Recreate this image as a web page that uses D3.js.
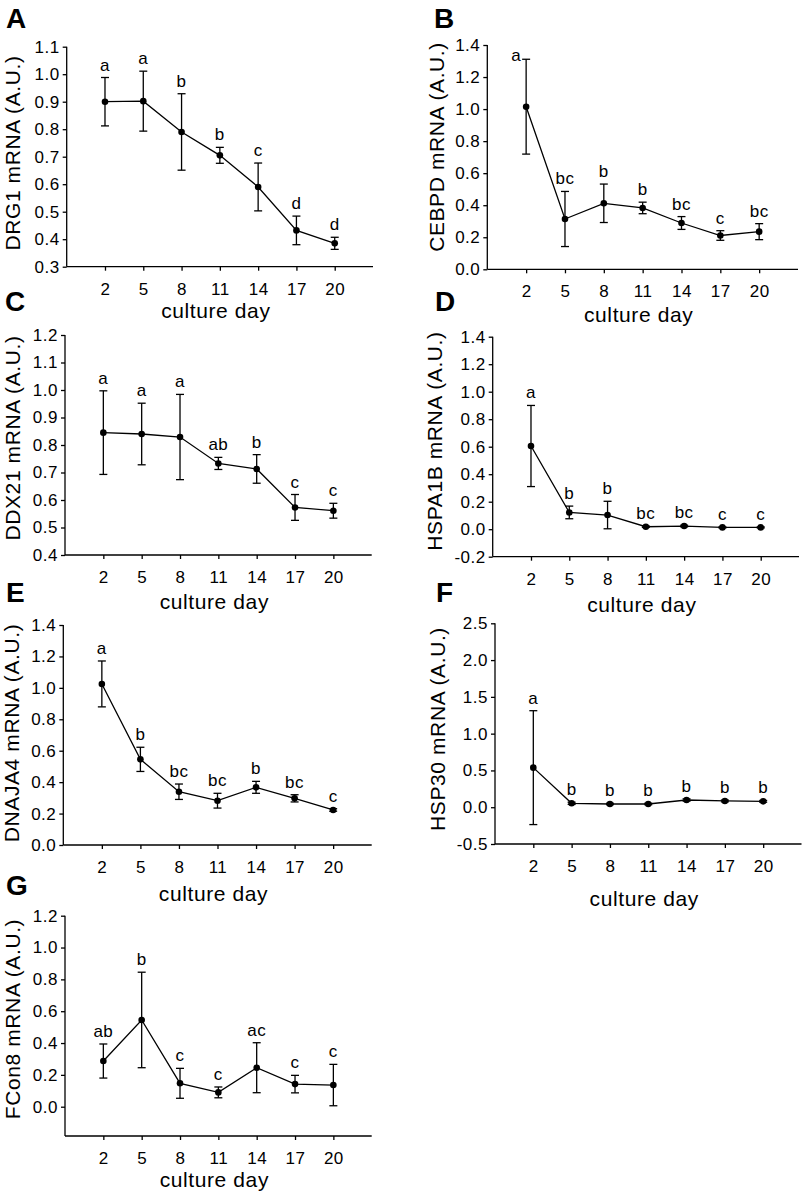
<!DOCTYPE html>
<html><head><meta charset="utf-8">
<script src="https://cdn.jsdelivr.net/npm/d3@7"></script>
<style>body{margin:0;background:#fff} svg text{font-family:"Liberation Sans",Arial,sans-serif;fill:#000}</style>
</head><body><svg id="c" width="802" height="1192"></svg>
<script>
// ---- data ----
const days = [2, 5, 8, 11, 14, 17, 20];

const drg1Mean = [0.900, 0.902, 0.790, 0.705, 0.590, 0.432, 0.385];
const drg1Err  = [0.088, 0.109, 0.139, 0.029, 0.087, 0.052, 0.022];
const drg1Sig  = ["a", "a", "b", "b", "c", "d", "d"];
const drg1Ticks = [0.3, 0.4, 0.5, 0.6, 0.7, 0.8, 0.9, 1.0, 1.1];

const cebpdMean = [1.015, 0.314, 0.412, 0.383, 0.289, 0.211, 0.235];
const cebpdErr  = [0.296, 0.172, 0.120, 0.036, 0.040, 0.030, 0.050];
const cebpdSig  = ["a", "bc", "b", "b", "bc", "c", "bc"];
const cebpdTicks = [0.0, 0.2, 0.4, 0.6, 0.8, 1.0, 1.2, 1.4];

const ddx21Mean = [0.845, 0.840, 0.829, 0.733, 0.713, 0.573, 0.561];
const ddx21Err  = [0.152, 0.112, 0.155, 0.022, 0.052, 0.047, 0.027];
const ddx21Sig  = ["a", "a", "a", "ab", "b", "c", "c"];
const ddx21Ticks = [0.4, 0.5, 0.6, 0.7, 0.8, 0.9, 1.0, 1.1, 1.2];

const hspa1bMean = [0.605, 0.122, 0.103, 0.018, 0.023, 0.013, 0.013];
const hspa1bErr  = [0.295, 0.046, 0.100, 0.005, 0.006, 0.004, 0.004];
const hspa1bSig  = ["a", "b", "b", "bc", "bc", "c", "c"];
const hspa1bTicks = [-0.2, 0.0, 0.2, 0.4, 0.6, 0.8, 1.0, 1.2, 1.4];

const dnaja4Mean = [1.025, 0.545, 0.339, 0.282, 0.367, 0.297, 0.223];
const dnaja4Err  = [0.146, 0.077, 0.049, 0.047, 0.038, 0.023, 0.008];
const dnaja4Sig  = ["a", "b", "bc", "bc", "b", "bc", "c"];
const dnaja4Ticks = [0.0, 0.2, 0.4, 0.6, 0.8, 1.0, 1.2, 1.4];

const hsp30Mean = [0.538, 0.053, 0.044, 0.044, 0.098, 0.085, 0.080];
const hsp30Err  = [0.774, 0.015, 0.010, 0.010, 0.015, 0.012, 0.012];
const hsp30Sig  = ["a", "b", "b", "b", "b", "b", "b"];
const hsp30Ticks = [-0.5, 0.0, 0.5, 1.0, 1.5, 2.0, 2.5];

const fcon8Mean = [0.287, 0.545, 0.147, 0.090, 0.245, 0.142, 0.136];
const fcon8Err  = [0.107, 0.300, 0.094, 0.034, 0.157, 0.055, 0.130];
const fcon8Sig  = ["ab", "b", "c", "c", "ac", "c", "c"];
const fcon8Ticks = [0.0, 0.2, 0.4, 0.6, 0.8, 1.0, 1.2];

// ---- layout ----
const panels = [
  {letter:"A", title:"DRG1 mRNA (A.U.)", mean:drg1Mean, err:drg1Err, sig:drg1Sig, ticks:drg1Ticks, yDom:[0.3,1.1],
   x0:66.7, x1:373, yTop:46.7, yBot:266.7, xlab:318, titleX:20, titleY:153, lx:6, ly:28},
  {letter:"B", title:"CEBPD mRNA (A.U.)", mean:cebpdMean, err:cebpdErr, sig:cebpdSig, ticks:cebpdTicks, yDom:[0,1.4],
   x0:487.3, x1:798, yTop:45, yBot:269.3, xlab:322, titleX:444, titleY:147, lx:434, ly:28},
  {letter:"C", title:"DDX21 mRNA (A.U.)", mean:ddx21Mean, err:ddx21Err, sig:ddx21Sig, ticks:ddx21Ticks, yDom:[0.4,1.2],
   x0:65, x1:371.7, yTop:335, yBot:555, xlab:609, titleX:20, titleY:438, lx:5, ly:311},
  {letter:"D", title:"HSPA1B mRNA (A.U.)", mean:hspa1bMean, err:hspa1bErr, sig:hspa1bSig, ticks:hspa1bTicks, yDom:[-0.2,1.4],
   x0:492.7, x1:799, yTop:336.7, yBot:556.7, xlab:612, titleX:442, titleY:441, lx:435, ly:311},
  {letter:"E", title:"DNAJA4 mRNA (A.U.)", mean:dnaja4Mean, err:dnaja4Err, sig:dnaja4Sig, ticks:dnaja4Ticks, yDom:[0,1.4],
   x0:63.3, x1:371.7, yTop:625, yBot:845, xlab:901, titleX:19, titleY:733, lx:6, ly:602},
  {letter:"F", title:"HSP30 mRNA (A.U.)", mean:hsp30Mean, err:hsp30Err, sig:hsp30Sig, ticks:hsp30Ticks, yDom:[-0.5,2.5],
   x0:495, x1:801.5, yTop:623.3, yBot:844, xlab:906, titleX:445, titleY:729, lx:436, ly:602},
  {letter:"G", title:"FCon8 mRNA (A.U.)", mean:fcon8Mean, err:fcon8Err, sig:fcon8Sig, ticks:fcon8Ticks, yDom:[-0.184,1.2],
   x0:65, x1:371.7, yTop:915.7, yBot:1136, xlab:1187, titleX:20, titleY:1019, lx:6, ly:895}
];

const svg = d3.select("#c");
const SW = 1.3;

panels.forEach(p => {
  const g = svg.append("g");
  const x = d3.scaleLinear().domain([-1, 23]).range([p.x0, p.x1]);
  const y = d3.scaleLinear().domain(p.yDom).range([p.yBot, p.yTop]);

  // y axis
  const ya = g.append("g").attr("transform", `translate(${p.x0},0)`)
    .call(d3.axisLeft(y).tickValues(p.ticks).tickSize(4).tickSizeOuter(0).tickPadding(3)
      .tickFormat(v => v.toFixed(1)));
  ya.select(".domain").attr("d", `M0,${p.yTop}V${p.yBot}`);
  ya.selectAll("text").attr("font-size", 17).attr("letter-spacing", 0.5).attr("font-family", null);
  ya.selectAll("line,path").attr("stroke", "#000").attr("stroke-width", SW);

  // x axis
  const xa = g.append("g").attr("transform", `translate(0,${p.yBot})`)
    .call(d3.axisBottom(x).tickValues(days).tickSize(4).tickSizeOuter(0).tickFormat(d3.format("d")));
  xa.select(".domain").attr("d", `M${p.x0},0H${p.x1}`);
  xa.selectAll("text").attr("font-size", 17).attr("letter-spacing", 0.5).attr("font-family", null)
    .attr("y", 28).attr("dy", null);
  xa.selectAll("line,path").attr("stroke", "#000").attr("stroke-width", SW);

  // axis titles
  g.append("text").attr("x", (p.x0 + p.x1) / 2 - 4).attr("y", p.xlab)
    .attr("text-anchor", "middle").attr("font-size", 21).attr("letter-spacing", 0.6).text("culture day");
  g.append("text").attr("transform", `translate(${p.titleX},${p.titleY}) rotate(-90)`)
    .attr("text-anchor", "middle").attr("font-size", 21).attr("letter-spacing", 0.6).text(p.title);

  // panel letter
  g.append("text").attr("x", p.lx).attr("y", p.ly).attr("font-size", 28)
    .attr("font-weight", "bold").text(p.letter);

  const pts = days.map((d, i) => ({d, m: p.mean[i], e: p.err[i], s: p.sig[i]}));

  // line
  g.append("path").datum(pts)
    .attr("d", d3.line().x(q => x(q.d)).y(q => y(q.m)))
    .attr("fill", "none").attr("stroke", "#000").attr("stroke-width", SW);

  // error bars
  const eb = g.selectAll(".eb").data(pts).enter().append("g");
  eb.append("line").attr("x1", q => x(q.d)).attr("x2", q => x(q.d))
    .attr("y1", q => y(q.m + q.e)).attr("y2", q => y(q.m - q.e));
  eb.append("line").attr("x1", q => x(q.d) - 4).attr("x2", q => x(q.d) + 4)
    .attr("y1", q => y(q.m + q.e)).attr("y2", q => y(q.m + q.e));
  eb.append("line").attr("x1", q => x(q.d) - 4).attr("x2", q => x(q.d) + 4)
    .attr("y1", q => y(q.m - q.e)).attr("y2", q => y(q.m - q.e));
  eb.selectAll("line").attr("stroke", "#000").attr("stroke-width", SW);

  // points
  g.selectAll(".pt").data(pts).enter().append("circle")
    .attr("cx", q => x(q.d)).attr("cy", q => y(q.m)).attr("r", 3.3).attr("fill", "#000");

  // significance letters
  g.selectAll(".sg").data(pts).enter().append("text")
    .attr("font-size", 17).attr("letter-spacing", 0.5).attr("text-anchor", "middle")
    .each(function(q) {
      const cap = y(q.m + q.e);
      let tx = x(q.d), ty = cap - 7;
      if (ty - 10 < p.yTop) { tx = x(q.d) - 10; ty = cap + 2; }
      d3.select(this).attr("x", tx).attr("y", ty);
    })
    .text(q => q.s);
});
</script></body></html>
